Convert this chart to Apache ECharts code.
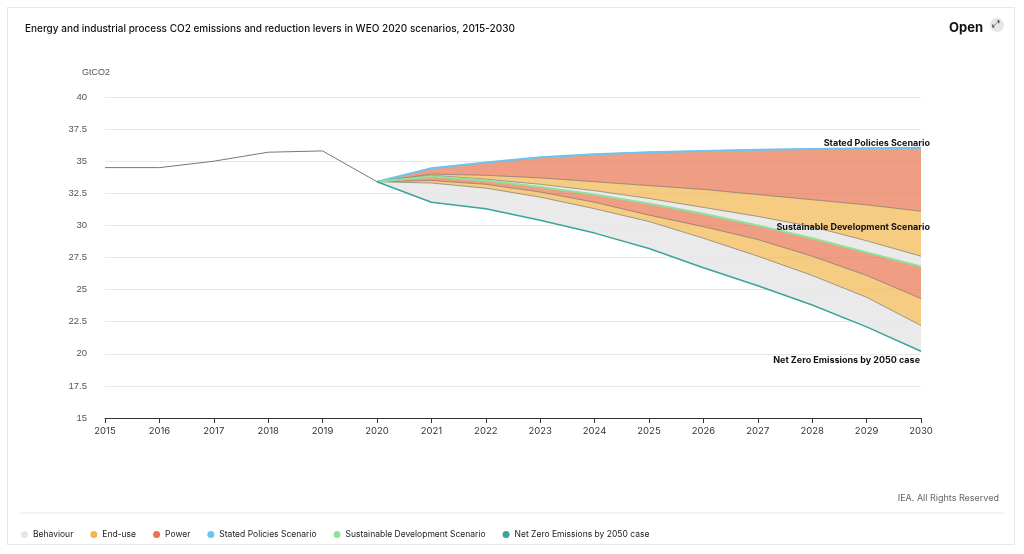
<!DOCTYPE html><html><head><meta charset="utf-8"><script src="https://cdn.jsdelivr.net/npm/echarts@6/dist/echarts.min.js"></script>
<style>body{margin:0;background:#fff;font-family:Inter,"Noto Sans",sans-serif}#w{position:absolute;left:7px;top:7px;width:1008px;height:538px;border:1px solid #e6e6e6;box-sizing:border-box}#c{width:1024px;height:554px}</style></head><body><div id="w"></div><div id="c" style="position:absolute;left:0;top:0"></div><script>
const years=['2015','2016','2017','2018','2019','2020','2021','2022','2023','2024','2025','2026','2027','2028','2029','2030'];
const history=[34.5,34.5,35.0,35.7,35.8,33.4];
// 2020-2030 boundaries
const steps=[33.4,34.45,34.9,35.3,35.55,35.7,35.8,35.9,35.95,36.0,36.05];
const stepsLessPower=[33.4,34.0,33.9,33.7,33.4,33.1,32.8,32.4,32.0,31.6,31.1];
const stepsLessEndUse=[33.4,33.9,33.6,33.2,32.7,32.1,31.4,30.7,29.9,28.8,27.6];
const sds=[33.4,33.8,33.5,33.0,32.4,31.7,30.9,30.0,29.0,27.9,26.8];
const sdsLessPower=[33.4,33.5,33.2,32.6,31.8,30.8,29.9,28.9,27.6,26.1,24.3];
const sdsLessEndUse=[33.4,33.3,32.9,32.2,31.3,30.3,29.0,27.6,26.1,24.4,22.2];
const nze=[33.4,31.8,31.3,30.4,29.4,28.2,26.7,25.3,23.8,22.1,20.2];
const pad=a=>[null,null,null,null,null].concat(a);
const diff=(a,b)=>pad(a.map((v,i)=>+(v-b[i]).toFixed(2)));
const C={beh:'#e6e6e6',end:'#f2b64f',pow:'#e8734f',st:'#6cc5f0',sd:'#8fe39a',nz:'#3aa59a'};
const band=(name,stack,data,color,op)=>({name,type:'line',stack,data,symbol:'none',smooth:false,lineStyle:{width:0.6,color:'#666'},areaStyle:{color,opacity:op},itemStyle:{color},z:2});
const base=(stack,data)=>({type:'line',stack,data:pad(data),symbol:'none',lineStyle:{width:0},areaStyle:{opacity:0},silent:true,z:1});
const ch=echarts.init(document.getElementById('c'));
const lbl=(off)=>({show:true,formatter:'{a}',align:'right',offset:off,fontSize:9,fontWeight:'bold',color:'#111',fontFamily:'Inter'});
ch.setOption({
animation:false,
title:[{text:'Energy and industrial process CO2 emissions and reduction levers in WEO 2020 scenarios, 2015-2030',left:20,top:19,textStyle:{fontSize:10,fontWeight:500,color:'#111',fontFamily:'Inter'}},
{text:'Open',right:36,top:17,textStyle:{fontSize:13,fontWeight:'bold',color:'#111',fontFamily:'Inter'}},
{text:'IEA. All Rights Reserved',right:20,top:489,textStyle:{fontSize:9,fontWeight:'normal',color:'#666',fontFamily:'Inter'}}],
graphic:[{type:'line',shape:{x1:20,y1:513,x2:1004,y2:513},style:{stroke:'#e6e6e6'}},
{type:'circle',shape:{cx:997,cy:25,r:7},style:{fill:'#e6e6e6'}},
{type:'text',left:992,top:19,style:{text:'⤢',fontSize:10,fill:'#333'}}],
legend:{left:16,top:525,itemWidth:7,itemHeight:7,icon:'circle',itemGap:17,textStyle:{fontSize:8.5,color:'#222',fontFamily:'Inter'},
data:['Behaviour','End-use','Power','Stated Policies Scenario','Sustainable Development Scenario','Net Zero Emissions by 2050 case']},
grid:{left:105,right:103,top:97,bottom:136},
xAxis:{type:'category',data:years,boundaryGap:false,axisLine:{lineStyle:{color:'#333'}},axisTick:{show:true,lineStyle:{color:'#333'}},axisLabel:{fontSize:9.5,color:'#333',fontFamily:'Inter'},splitLine:{show:false}},
yAxis:{type:'value',min:15,max:40,interval:2.5,name:'GtCO2',nameGap:20,nameTextStyle:{fontSize:9,color:'#555',align:'right',padding:[0,-5,0,0]},axisLine:{show:false},axisTick:{show:false},axisLabel:{fontSize:9.5,color:'#555',margin:18},splitLine:{lineStyle:{color:'#e8e8e8'}}},
series:[
base('a',nze),
band('Behaviour','a',diff(sdsLessEndUse,nze),C.beh,0.85),
band('End-use','a',diff(sdsLessPower,sdsLessEndUse),C.end,0.7),
band('Power','a',diff(sds,sdsLessPower),C.pow,0.7),
base('b',sds),
band('Behaviour','b',diff(stepsLessEndUse,sds),C.beh,0.85),
band('End-use','b',diff(stepsLessPower,stepsLessEndUse),C.end,0.7),
band('Power','b',diff(steps,stepsLessPower),C.pow,0.7),
{type:'line',data:history,symbol:'none',lineStyle:{color:'#777',width:1},z:5},
{name:'Stated Policies Scenario',type:'line',data:pad(steps),symbol:'none',lineStyle:{color:C.st,width:2},itemStyle:{color:C.st},z:6,endLabel:lbl([1,-4])},
{name:'Sustainable Development Scenario',type:'line',data:pad(sds),symbol:'none',lineStyle:{color:C.sd,width:2},itemStyle:{color:C.sd},z:6,endLabel:lbl([1,-39])},
{name:'Net Zero Emissions by 2050 case',type:'line',data:pad(nze),symbol:'none',lineStyle:{color:C.nz,width:1.5},itemStyle:{color:C.nz},z:6,endLabel:lbl([-9,9])}
]});
</script></body></html>
